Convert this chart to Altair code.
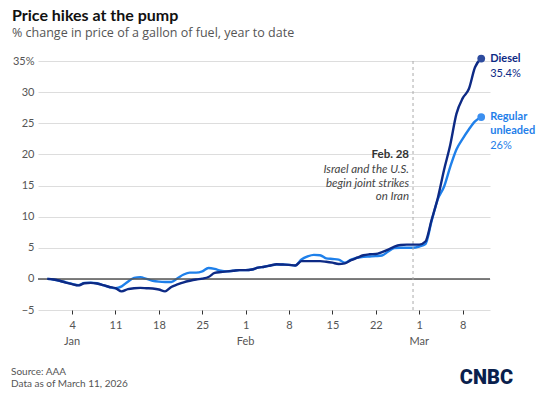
import altair as alt
import pandas as pd

# ---------------- data ----------------
dates = pd.date_range("2025-12-31", "2026-03-11", freq="D").strftime("%Y-%m-%d").tolist()

diesel = [0.0, -0.1, -0.3, -0.6, -0.85, -1.05, -0.7, -0.65, -0.75, -1.0,
          -1.3, -1.5, -2.0, -1.65, -1.5, -1.45, -1.5, -1.55, -1.7, -2.0,
          -1.3, -0.9, -0.55, -0.3, -0.1, 0.05, 0.3, 0.95, 1.1, 1.2,
          1.3, 1.4, 1.4, 1.5, 1.8, 1.95, 2.15, 2.35, 2.3, 2.25,
          2.15, 2.85, 2.85, 2.85, 2.85, 2.75, 2.6, 2.4, 2.5, 3.0,
          3.4, 3.8, 3.95, 4.0, 4.3, 4.7, 5.2, 5.45, 5.5, 5.5,
          5.5, 6.0, 9.5, 13.0, 17.5, 21.5, 26.5, 29.0, 30.5, 34.0,
          35.4]

regular = [0.0, -0.1, -0.3, -0.55, -0.8, -1.0, -0.65, -0.6, -0.7, -1.0,
           -1.3, -1.5, -1.2, -0.45, 0.15, 0.25, 0.0, -0.3, -0.45, -0.5,
           -0.5, 0.1, 0.7, 1.0, 1.0, 1.2, 1.75, 1.6, 1.3, 1.2,
           1.3, 1.4, 1.4, 1.5, 1.8, 1.95, 2.15, 2.3, 2.3, 2.25,
           2.15, 3.1, 3.6, 3.85, 3.8, 3.3, 3.2, 3.1, 2.6, 3.1,
           3.4, 3.55, 3.6, 3.65, 3.75, 4.4, 4.95, 5.0, 5.0, 5.0,
           5.2, 5.6, 9.3, 12.8, 14.8, 18.0, 20.8, 22.5, 24.0, 25.3,
           26.0]

series_colors = {"Diesel": "#0d2a85", "Regular": "#1f80ea"}
dot_colors = {"Diesel": "#2d4b9e", "Regular": "#3b8ff0"}

tick_dates = ["2026-01-04", "2026-01-11", "2026-01-18", "2026-01-25",
              "2026-02-01", "2026-02-08", "2026-02-15", "2026-02-22",
              "2026-03-01", "2026-03-08"]
month_dates = ["2026-01-04", "2026-02-01", "2026-03-01"]
month_labels = ["Jan", "Feb", "Mar"]
y_ticks = [-5, 0, 5, 10, 15, 20, 25, 30, 35]

event_date = "2026-02-28"
event_title = "Feb. 28"
event_lines = ["Israel and the U.S.", "begin joint strikes", "on Iran"]

title = "Price hikes at the pump"
subtitle = "% change in price of a gallon of fuel, year to date"
source_lines = ["Source: AAA", "Data as of March 11, 2026"]


def ms(s):
    return int(pd.Timestamp(s, tz="UTC").value // 10**6)


# ---------------- frames ----------------
df_d = pd.DataFrame({"date": dates, "value": diesel})
df_r = pd.DataFrame({"date": dates, "value": regular})
last_d = df_d.tail(1).copy()
last_d["pct"] = [f"{diesel[-1]:g}%"]
last_r = df_r.tail(1).copy()
last_r["pct"] = [f"{regular[-1]:g}%"]

W, H = 452, 249
FONT = "Lato"
GREY = "#555555"

xscale = alt.Scale(type="utc", domain=[ms("2025-12-29T12:00"), ms("2026-03-12T10:00")])
yscale = alt.Scale(domain=[-5, 35], nice=False, zero=False)

x_axis = alt.Axis(values=[ms(d) for d in tick_dates],
                  labelExpr="'' + utcdate(datum.value)",
                  title=None, domain=False, grid=False,
                  ticks=True, tickSize=4, tickColor="#333333", tickWidth=1,
                  labelColor=GREY, labelFontSize=11, labelFont=FONT,
                  labelPadding=5)
y_axis = alt.Axis(values=y_ticks,
                  labelExpr="datum.value == 35 ? '35%' : (datum.value < 0 ? '\u2212' + abs(datum.value) : '' + datum.value)",
                  title=None, domain=False, ticks=False, grid=True,
                  gridColor="#dddddd", gridWidth=1,
                  labelColor=GREY, labelFontSize=11, labelFont=FONT,
                  labelPadding=4)

X = alt.X("date:T", scale=xscale, axis=x_axis)
Y = alt.Y("value:Q", scale=yscale, axis=y_axis)

line_r = alt.Chart(df_r).mark_line(color=series_colors["Regular"], strokeWidth=2.4,
                                   interpolate="monotone").encode(x=X, y=Y)

zero_rule = alt.Chart(pd.DataFrame({"value": [0]})).mark_rule(
    color="#555555", strokeWidth=1.5).encode(y=Y)

event_rule = alt.Chart(pd.DataFrame({"date": [event_date]})).mark_rule(
    color="#aaaaaa", strokeDash=[3, 3], strokeWidth=1).encode(
    x=X, y=alt.value(0), y2=alt.value(H))

line_d = alt.Chart(df_d).mark_line(color=series_colors["Diesel"], strokeWidth=2.4,
                                   interpolate="monotone").encode(x=X, y=Y)

dot_r = alt.Chart(last_r).mark_circle(size=60, opacity=1,
                                      color=dot_colors["Regular"]).encode(x=X, y=Y)
dot_d = alt.Chart(last_d).mark_circle(size=60, opacity=1,
                                      color=dot_colors["Diesel"]).encode(x=X, y=Y)

lbl_d_name = alt.Chart(last_d).mark_text(
    align="left", baseline="alphabetic", dx=9, dy=3, font=FONT, fontSize=11,
    fontWeight="bold", color=series_colors["Diesel"]).encode(
    x=X, y=Y, text=alt.value("Diesel"))
lbl_d_val = alt.Chart(last_d).mark_text(
    align="left", baseline="alphabetic", dx=9, dy=18, font=FONT, fontSize=11,
    color=series_colors["Diesel"]).encode(x=X, y=Y, text="pct:N")

lbl_r_name = alt.Chart(last_r).mark_text(
    align="left", baseline="alphabetic", dx=9, dy=3, font=FONT, fontSize=11,
    fontWeight="bold", lineHeight=14, color=series_colors["Regular"]).encode(
    x=X, y=Y, text=alt.value(["Regular", "unleaded"]))
lbl_r_val = alt.Chart(last_r).mark_text(
    align="left", baseline="alphabetic", dx=9, dy=32, font=FONT, fontSize=11,
    color=series_colors["Regular"]).encode(x=X, y=Y, text="pct:N")

ev = pd.DataFrame({"date": [event_date]})
ev_title = alt.Chart(ev).mark_text(
    align="right", baseline="alphabetic", dx=-4, font=FONT, fontSize=11.5,
    fontWeight="bold", color="#333333").encode(
    x=X, y=alt.value(97), text=alt.value(event_title))
ev_body = alt.Chart(ev).mark_text(
    align="right", baseline="alphabetic", dx=-4, font=FONT, fontSize=11.5,
    fontStyle="italic", lineHeight=13.5, color="#444444").encode(
    x=X, y=alt.value(112), text=alt.value(event_lines))

months = alt.Chart(pd.DataFrame({"date": month_dates, "label": month_labels})).mark_text(
    align="center", baseline="alphabetic", font=FONT, fontSize=11, color=GREY).encode(
    x=X, y=alt.value(H + 35), text="label:N")

title_t = alt.Chart(pd.DataFrame({"t": [title]})).mark_text(
    align="left", baseline="alphabetic", font=FONT, fontSize=16, fontWeight="bold",
    color="#111111").encode(x=alt.value(-26), y=alt.value(-40), text="t:N")
subtitle_t = alt.Chart(pd.DataFrame({"t": [subtitle]})).mark_text(
    align="left", baseline="alphabetic", font="Open Sans", fontSize=12.5,
    color=GREY).encode(x=alt.value(-26), y=alt.value(-24.5), text="t:N")
source_t = alt.Chart(pd.DataFrame({"t": [source_lines]})).mark_text(
    align="left", baseline="alphabetic", font=FONT, fontSize=10, lineHeight=12,
    color=GREY).encode(x=alt.value(-27), y=alt.value(314), text="t:N")
logo_t = alt.Chart(pd.DataFrame({"t": ["CNBC"]})).mark_text(
    align="right", baseline="alphabetic", font="Roboto", fontSize=20, fontWeight=900,
    color="#0a1f4d").encode(x=alt.value(475), y=alt.value(323), text="t:N")

chart = alt.layer(
    line_r, zero_rule, event_rule, line_d, dot_r, dot_d,
    lbl_d_name, lbl_d_val, lbl_r_name, lbl_r_val,
    ev_title, ev_body, months, title_t, subtitle_t, source_t, logo_t
).properties(
    width=W, height=H,
    autosize=alt.AutoSizeParams(type="none"),
    padding={"left": 30, "top": 53, "right": 52, "bottom": 80},
    background="white"
).configure_view(stroke=None)

chart.save("out.html", embed_options={"renderer": "svg", "actions": False})
